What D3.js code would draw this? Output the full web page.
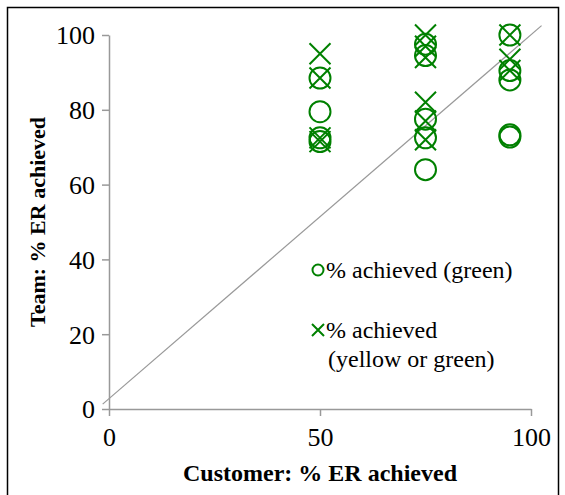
<!DOCTYPE html>
<html><head><meta charset="utf-8">
<script src="https://cdn.jsdelivr.net/npm/d3@7"></script>
<style>html,body{margin:0;padding:0;background:#fff}svg{display:block}</style>
</head><body>
<svg id="c" width="565" height="495"></svg>
<script>
const greenX = [50, 50, 50, 50, 75, 75, 75, 75, 75, 95, 95, 95, 95, 95];
const greenY = [88.5, 79.5, 72.5, 71.5, 97.5, 94.5, 77.5, 72.5, 64, 100, 90.5, 88, 73.3, 72.7];
const ygX = [50, 50, 50, 50, 75, 75, 75, 75, 75, 75, 95, 95, 95];
const ygY = [95, 88.5, 72.5, 71.5, 100, 97, 94, 82, 77, 72, 100, 93.5, 90.5];
const refLineX = [-1.5, 102.5];
const refLineY = [1.3, 102.5];
const xTicks = [0, 50, 100];
const yTicks = [0, 20, 40, 60, 80, 100];
const seriesNames = ["% achieved (green)", "% achieved", "(yellow or green)"];
const xTitle = "Customer: % ER achieved";
const yTitle = "Team: % ER achieved";

const svg = d3.select("#c");
const font = "'Liberation Serif','Times New Roman',serif";
const col = "#008000";

svg.append("rect").attr("x", 7.5).attr("y", 7.5).attr("width", 551).attr("height", 500)
  .attr("fill", "none").attr("stroke", "#000").attr("stroke-width", 1.5);

const x = d3.scaleLinear().domain([0, 100]).range([109, 531]);
const y = d3.scaleLinear().domain([0, 100]).range([409, 35]);

const gx = svg.append("g").attr("transform", "translate(0,409)")
  .call(d3.axisBottom(x).tickValues(xTicks).tickSize(7).tickSizeOuter(0).tickPadding(12));
const gy = svg.append("g").attr("transform", "translate(109,0)")
  .call(d3.axisLeft(y).tickValues(yTicks).tickSize(7).tickSizeOuter(0).tickPadding(7));
[gx, gy].forEach(g => {
  g.select(".domain").attr("stroke", "#999").attr("stroke-width", 1.5);
  g.selectAll(".tick line").attr("stroke", "#999").attr("stroke-width", 1.5);
  g.selectAll(".tick text").attr("fill", "#000").attr("font-family", font).attr("font-size", 26);
});
gx.selectAll(".tick text").attr("dy", "0.71em");
gy.selectAll(".tick text").attr("dy", "0.34em");

// reference line
svg.append("line")
  .attr("x1", x(refLineX[0])).attr("y1", y(refLineY[0]))
  .attr("x2", x(refLineX[1])).attr("y2", y(refLineY[1]))
  .attr("stroke", "#999").attr("stroke-width", 1.2);

const R = 10.5;
const greenData = greenX.map((v, i) => [v, greenY[i]]);
const ygData = ygX.map((v, i) => [v, ygY[i]]);

svg.append("g").selectAll("circle").data(greenData).join("circle")
  .attr("cx", d => x(d[0])).attr("cy", d => y(d[1])).attr("r", R)
  .attr("fill", "none").attr("stroke", col).attr("stroke-width", 2);

const cross = (s) => `M${-s},${-s}L${s},${s}M${-s},${s}L${s},${-s}`;
svg.append("g").selectAll("path").data(ygData).join("path")
  .attr("transform", d => `translate(${x(d[0])},${y(d[1])})`)
  .attr("d", cross(R))
  .attr("fill", "none").attr("stroke", col).attr("stroke-width", 2);

// legend
const lg = svg.append("g");
lg.append("circle").attr("cx", 318).attr("cy", 270).attr("r", 5.5)
  .attr("fill", "none").attr("stroke", col).attr("stroke-width", 2);
lg.append("path").attr("transform", "translate(318,330)").attr("d", cross(6))
  .attr("fill", "none").attr("stroke", col).attr("stroke-width", 2);
lg.append("text").attr("x", 326).attr("y", 278).text(seriesNames[0]);
lg.append("text").attr("x", 326).attr("y", 338).text(seriesNames[1]);
lg.append("text").attr("x", 328).attr("y", 367).text(seriesNames[2]);
lg.selectAll("text").attr("font-family", font).attr("font-size", 24).attr("fill", "#000");

svg.append("text").attr("x", 320).attr("y", 481).attr("text-anchor", "middle")
  .attr("font-family", font).attr("font-size", 24).attr("font-weight", "bold").text(xTitle);
svg.append("text").attr("transform", "translate(45,222) rotate(-90)").attr("text-anchor", "middle")
  .attr("font-family", font).attr("font-size", 22).attr("font-weight", "bold").text(yTitle);
</script>
</body></html>
